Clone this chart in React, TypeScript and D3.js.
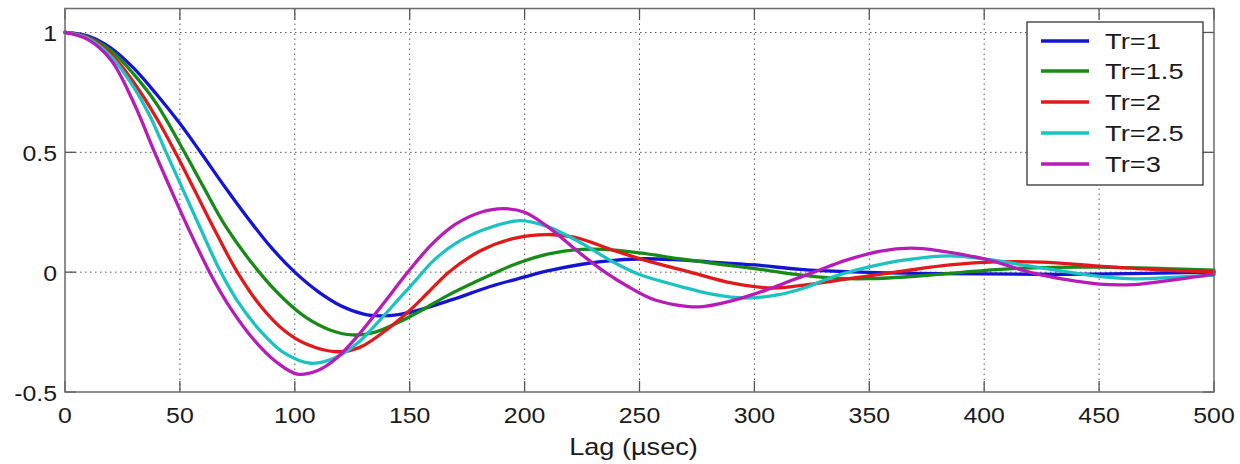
import React from "react";
import * as d3 from "d3";

const W = 1240;
const H = 464;

const xTicks = [0, 50, 100, 150, 200, 250, 300, 350, 400, 450, 500];
const yTicks = [-0.5, 0, 0.5, 1];
const yTickLabels = ["-0.5", "0", "0.5", "1"];
const xLabel = "Lag (\u00b5sec)";

const seriesNames = ["Tr=1", "Tr=1.5", "Tr=2", "Tr=2.5", "Tr=3"];
const seriesColors = ["#1414d2", "#178a17", "#e01a1a", "#1cc2c2", "#b81cb8"];

const tr1: [number, number][] = [
  [0, 1], [10, 0.985], [20, 0.935], [30, 0.85], [40, 0.74], [50, 0.62], [59, 0.5],
  [70, 0.35], [80, 0.22], [90, 0.1], [100, 0], [110, -0.08], [120, -0.14], [130, -0.175],
  [137, -0.182], [145, -0.177], [155, -0.155], [170, -0.11], [185, -0.06], [200, -0.02],
  [210, 0.005], [225, 0.033], [240, 0.05], [252, 0.056], [265, 0.052], [280, 0.043],
  [300, 0.03], [320, 0.012], [340, 0.002], [370, -0.005], [400, -0.007], [435, -0.009],
  [470, -0.005], [500, 0],
];
const tr15: [number, number][] = [
  [0, 1], [10, 0.98], [20, 0.925], [30, 0.825], [40, 0.7], [52, 0.5], [60, 0.36],
  [70, 0.19], [84.5, 0], [95, -0.11], [105, -0.19], [115, -0.24], [125, -0.262],
  [135, -0.25], [145, -0.21], [155, -0.16], [166, -0.1], [181, -0.03], [195, 0.03],
  [210, 0.075], [225, 0.095], [235, 0.095], [250, 0.08], [268, 0.055], [285, 0.033],
  [300, 0.015], [317, -0.008], [335, -0.025], [350, -0.027], [370, -0.017], [389, -0.002],
  [407, 0.012], [430, 0.02], [450, 0.021], [478, 0.015], [500, 0.008],
];
const tr2: [number, number][] = [
  [0, 1], [10, 0.978], [20, 0.91], [30, 0.79], [40, 0.64], [48, 0.5], [57, 0.33],
  [66, 0.16], [75, 0], [85, -0.14], [95, -0.24], [105, -0.3], [118, -0.332],
  [128, -0.315], [140, -0.24], [150, -0.16], [158, -0.085], [167, 0], [181, 0.09],
  [195, 0.14], [210, 0.157], [222, 0.145], [239, 0.09], [253, 0.048], [272, 0],
  [290, -0.045], [308, -0.066], [325, -0.05], [345, -0.022], [365, 0.005], [385, 0.03],
  [405, 0.043], [425, 0.042], [450, 0.025], [475, 0.01], [500, 0.002],
];
const tr25: [number, number][] = [
  [0, 1], [10, 0.975], [20, 0.9], [30, 0.77], [37, 0.65], [44, 0.5], [52, 0.33],
  [60, 0.16], [67, 0.015], [75, -0.12], [85, -0.245], [95, -0.335], [107, -0.38],
  [118, -0.355], [128, -0.29], [137, -0.2], [145, -0.115], [153, -0.03], [160, 0.045],
  [170, 0.12], [183, 0.18], [198, 0.215], [210, 0.19], [224, 0.125], [239, 0.04],
  [250, -0.01], [268, -0.06], [282, -0.093], [296, -0.108], [310, -0.095], [322, -0.065],
  [334, -0.02], [349, 0.02], [365, 0.05], [385, 0.068], [400, 0.055], [420, 0.025],
  [450, -0.018], [466, -0.028], [482, -0.022], [500, -0.012],
];
const tr3: [number, number][] = [
  [0, 1], [10, 0.97], [20, 0.885], [30, 0.705], [39, 0.5], [50, 0.26], [57, 0.115],
  [64, -0.02], [72, -0.15], [82, -0.28], [92, -0.375], [101, -0.425], [110, -0.41],
  [118, -0.36], [127, -0.27], [137, -0.15], [150, 0.01], [160, 0.12], [170, 0.2],
  [181, 0.25], [191, 0.265], [200, 0.25], [210, 0.19], [224, 0.08], [235, 0],
  [245, -0.06], [255, -0.11], [265, -0.135], [276, -0.145], [290, -0.12], [305, -0.075],
  [316, -0.035], [326, 0], [340, 0.05], [355, 0.088], [368, 0.1], [380, 0.09],
  [400, 0.055], [421, -0.003], [435, -0.03], [450, -0.05], [465, -0.052], [480, -0.035],
  [500, -0.008],
];
const seriesData = [tr1, tr15, tr2, tr25, tr3];

const FONT = "'Liberation Sans', Arial, Helvetica, sans-serif";

function Txt(props: { x: number; y: number; anchor: string; size: number; sx?: number; children: any }) {
  const sx = props.sx ?? 1.13;
  return (
    <text
      transform={`translate(${props.x},${props.y}) scale(${sx},1)`}
      textAnchor={props.anchor as any}
      fontFamily={FONT}
      fontSize={props.size}
      fill="#1a1a1a"
    >
      {props.children}
    </text>
  );
}

export default function App() {
  const x = d3.scaleLinear().domain([0, 500]).range([65, 1214]);
  const y = d3.scaleLinear().domain([-0.5, 1.1]).range([392, 8.5]);
  const left = x(0), right = x(500), top = y(1.1), bottom = y(-0.5);
  const line = d3
    .line<[number, number]>()
    .x((d) => x(d[0]))
    .y((d) => y(d[1]))
    .curve(d3.curveCatmullRom.alpha(0.5));
  const tickLen = 11;
  const legRows = [41, 71, 102, 133, 164];

  return (
    <svg width={W} height={H} style={{ position: "absolute", left: 0, top: 0, background: "#fff" }}>
      <rect x={0} y={0} width={W} height={H} fill="#fff" />
      {xTicks.slice(1, -1).map((t) => (
        <line key={"gx" + t} x1={x(t)} x2={x(t)} y1={top} y2={bottom} stroke="#555" strokeWidth={1} strokeDasharray="1.5,3.5" />
      ))}
      {yTicks.slice(1).map((t) => (
        <line key={"gy" + t} x1={left} x2={right} y1={y(t)} y2={y(t)} stroke="#555" strokeWidth={1} strokeDasharray="1.5,3.5" />
      ))}
      {xTicks.map((t) => (
        <g key={"tx" + t}>
          <line x1={x(t)} x2={x(t)} y1={bottom} y2={bottom - tickLen} stroke="#555" strokeWidth={1.3} />
          <line x1={x(t)} x2={x(t)} y1={top} y2={top + tickLen} stroke="#555" strokeWidth={1.3} />
        </g>
      ))}
      {yTicks.map((t) => (
        <g key={"ty" + t}>
          <line x1={left} x2={left + tickLen} y1={y(t)} y2={y(t)} stroke="#555" strokeWidth={1.3} />
          <line x1={right} x2={right - tickLen} y1={y(t)} y2={y(t)} stroke="#555" strokeWidth={1.3} />
        </g>
      ))}
      {seriesData.map((d, i) => (
        <path key={"s" + i} d={line(d) || ""} fill="none" stroke={seriesColors[i]} strokeWidth={3.3} strokeLinejoin="round" strokeLinecap="round" />
      ))}
      <rect x={left} y={top} width={right - left} height={bottom - top} fill="none" stroke="#6a6a6a" strokeWidth={1.5} />
      {xTicks.map((t) => (
        <Txt key={"lx" + t} x={x(t)} y={423} anchor="middle" size={22}>
          {String(t)}
        </Txt>
      ))}
      {yTicks.map((t, i) => (
        <Txt key={"ly" + t} x={57} y={y(t) + 9} anchor="end" size={22}>
          {yTickLabels[i]}
        </Txt>
      ))}
      <Txt x={(left + right) / 2 - 6} y={455} anchor="middle" size={23} sx={1.18}>
        {xLabel}
      </Txt>
      <rect x={1027} y={22} width={176} height={163} fill="#fff" stroke="#333" strokeWidth={1.3} />
      {seriesNames.map((n, i) => (
        <g key={"lg" + i}>
          <line x1={1041} x2={1089} y1={legRows[i]} y2={legRows[i]} stroke={seriesColors[i]} strokeWidth={3.3} />
          <Txt x={1105} y={legRows[i] + 8} anchor="start" size={22} sx={1.24}>
            {n}
          </Txt>
        </g>
      ))}
    </svg>
  );
}
